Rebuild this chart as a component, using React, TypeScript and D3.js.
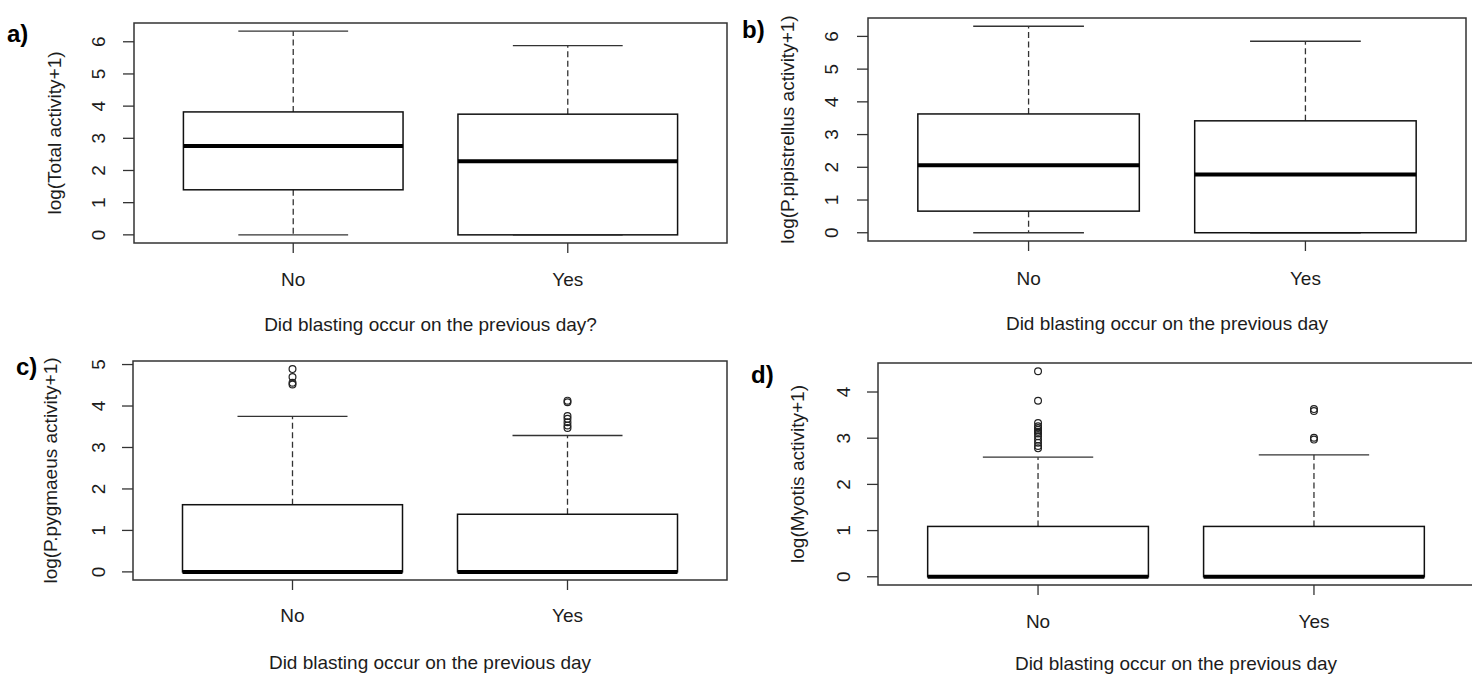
import React from "react";
import * as d3 from "d3";

// ---------- data ----------
const groups = ["No", "Yes"];

// five-number summaries [lower whisker, Q1, median, Q3, upper whisker]
const totalStats = [
  [0, 1.4, 2.76, 3.82, 6.33],
  [0, 0, 2.29, 3.75, 5.88],
];
const totalOutliers: number[][] = [[], []];

const pipStats = [
  [0, 0.66, 2.06, 3.63, 6.31],
  [0, 0, 1.78, 3.42, 5.85],
];
const pipOutliers: number[][] = [[], []];

const pygStats = [
  [0, 0, 0, 1.62, 3.75],
  [0, 0, 0, 1.39, 3.29],
];
const pygOutliers = [
  [4.89, 4.7, 4.56, 4.52],
  [4.13, 4.09, 3.76, 3.69, 3.61, 3.53, 3.47],
];

const myoStats = [
  [0, 0, 0, 1.09, 2.59],
  [0, 0, 0, 1.09, 2.64],
];
const myoOutliers = [
  [4.45, 3.81, 3.33, 3.26, 3.22, 3.18, 3.14, 3.1, 3.04, 2.97, 2.9, 2.83, 2.78],
  [3.63, 3.59, 3.01, 2.97],
];

const ticksA = [0, 1, 2, 3, 4, 5, 6];
const ticksB = [0, 1, 2, 3, 4, 5, 6];
const ticksC = [0, 1, 2, 3, 4, 5];
const ticksD = [0, 1, 2, 3, 4];

const panelTags = ["a)", "b)", "c)", "d)"];
const yTitles = [
  "log(Total activity+1)",
  "log(P.pipistrellus activity+1)",
  "log(P.pygmaeus activity+1)",
  "log(Myotis activity+1)",
];
const xTitles = [
  "Did blasting occur on the previous day?",
  "Did blasting occur on the previous day",
  "Did blasting occur on the previous day",
  "Did blasting occur on the previous day",
];

// ---------- layout ----------
const layouts = [
  { left: 134, right: 727, top: 23, bottom: 243, tagX: 7, tagY: 42, yTitleX: 60.5, tickLabX: 104.5, catDy: 42.5, titleDy: 88 },
  { left: 868, right: 1466, top: 18, bottom: 241, tagX: 742, tagY: 38, yTitleX: 793.5, tickLabX: 838, catDy: 43.5, titleDy: 89 },
  { left: 133, right: 727, top: 361, bottom: 580, tagX: 16, tagY: 375, yTitleX: 57, tickLabX: 104.5, catDy: 41.5, titleDy: 89 },
  { left: 878, right: 1474, top: 363, bottom: 585, tagX: 751, tagY: 383, yTitleX: 803.5, tickLabX: 849.5, catDy: 42.5, titleDy: 85 },
];

const FONT = "'Liberation Sans', Arial, Helvetica, sans-serif";
const TEXT = "#1c1c1c";

interface PanelProps {
  stats: number[][];
  outliers: number[][];
  ticks: number[];
  tag: string;
  yTitle: string;
  xTitle: string;
  lay: (typeof layouts)[number];
}

function Panel({ stats, outliers, ticks, tag, yTitle, xTitle, lay }: PanelProps) {
  const x = d3.scaleLinear().domain([0.42, 2.58]).range([lay.left, lay.right]);
  const all = stats.flat().concat(outliers.flat());
  const lo = d3.min(all) as number;
  const hi = d3.max(all) as number;
  const pad = (hi - lo) * 0.04;
  const y = d3.scaleLinear().domain([lo - pad, hi + pad]).range([lay.bottom, lay.top]);
  const [y0, y1] = [y.range()[0], y.range()[1]];
  const cx = (lay.left + lay.right) / 2;
  const cy = (lay.top + lay.bottom) / 2;

  return (
    <g>
      {/* panel tag */}
      <text x={lay.tagX} y={lay.tagY} fontFamily={FONT} fontWeight="bold" fontSize={24} fill="#000">
        {tag}
      </text>
      {/* y title */}
      <text
        transform={`translate(${lay.yTitleX},${cy}) rotate(-90)`}
        textAnchor="middle"
        fontFamily={FONT}
        fontSize={19}
        fill={TEXT}
      >
        {yTitle}
      </text>
      {/* y ticks */}
      {ticks.map((t) => (
        <g key={t}>
          <line x1={lay.left - 11} x2={lay.left} y1={y(t)} y2={y(t)} stroke="#333" strokeWidth={1.3} />
          <text
            transform={`translate(${lay.tickLabX},${y(t)}) rotate(-90)`}
            textAnchor="middle"
            fontFamily={FONT}
            fontSize={19}
            fill={TEXT}
          >
            {t}
          </text>
        </g>
      ))}
      {/* x ticks + categories */}
      {groups.map((g, i) => (
        <g key={g}>
          <line x1={x(i + 1)} x2={x(i + 1)} y1={y0} y2={y0 + 10} stroke="#333" strokeWidth={1.3} />
          <text x={x(i + 1)} y={y0 + lay.catDy} textAnchor="middle" fontFamily={FONT} fontSize={19} fill={TEXT}>
            {g}
          </text>
        </g>
      ))}
      <text x={cx} y={y0 + lay.titleDy} textAnchor="middle" fontFamily={FONT} fontSize={19} fill={TEXT}>
        {xTitle}
      </text>
      {/* boxes */}
      {stats.map((s, i) => {
        const c = i + 1;
        const [wl, q1, med, q3, wh] = s;
        return (
          <g key={i}>
            {wh > q3 && (
              <line x1={x(c)} x2={x(c)} y1={y(q3)} y2={y(wh)} stroke="#333" strokeWidth={1.3} strokeDasharray="6,3.5" />
            )}
            {q1 > wl && (
              <line x1={x(c)} x2={x(c)} y1={y(q1)} y2={y(wl)} stroke="#333" strokeWidth={1.3} strokeDasharray="6,3.5" />
            )}
            <line x1={x(c - 0.2)} x2={x(c + 0.2)} y1={y(wh)} y2={y(wh)} stroke="#333" strokeWidth={1.4} />
            <line x1={x(c - 0.2)} x2={x(c + 0.2)} y1={y(wl)} y2={y(wl)} stroke="#333" strokeWidth={1.4} />
            <rect
              x={x(c - 0.4)}
              y={y(q3)}
              width={x(c + 0.4) - x(c - 0.4)}
              height={y(q1) - y(q3)}
              fill="#fff"
              stroke="#111"
              strokeWidth={1.5}
            />
            <line x1={x(c - 0.4)} x2={x(c + 0.4)} y1={y(med)} y2={y(med)} stroke="#000" strokeWidth={4} />
            {outliers[i].map((o, k) => (
              <circle key={k} cx={x(c)} cy={y(o)} r={3.4} fill="none" stroke="#222" strokeWidth={1.2} />
            ))}
          </g>
        );
      })}
      {/* frame */}
      <rect
        x={lay.left}
        y={y1}
        width={lay.right - lay.left}
        height={y0 - y1}
        fill="none"
        stroke="#333"
        strokeWidth={1.5}
      />
    </g>
  );
}

export default function App() {
  const statsList = [totalStats, pipStats, pygStats, myoStats];
  const outList = [totalOutliers, pipOutliers, pygOutliers, myoOutliers];
  const tickList = [ticksA, ticksB, ticksC, ticksD];
  return (
    <svg
      width={1472}
      height={679}
      style={{ position: "absolute", left: 0, top: 0, background: "#fff" }}
    >
      <rect x={0} y={0} width={1472} height={679} fill="#fff" />
      {layouts.map((lay, i) => (
        <Panel
          key={i}
          stats={statsList[i]}
          outliers={outList[i]}
          ticks={tickList[i]}
          tag={panelTags[i]}
          yTitle={yTitles[i]}
          xTitle={xTitles[i]}
          lay={lay}
        />
      ))}
    </svg>
  );
}
